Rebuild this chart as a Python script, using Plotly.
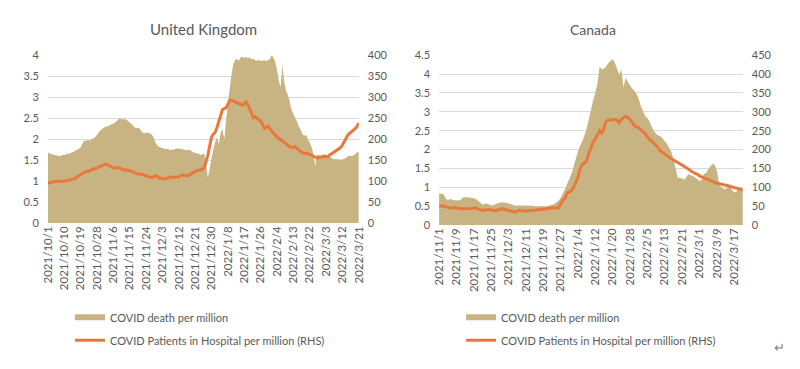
import pandas as pd
import plotly.graph_objects as go

# ---------------- United Kingdom (daily, 2021-10-01 .. 2022-03-21) ----------------
uk_start = "2021-10-01"
uk_end = "2022-03-21"
uk_death = [
    1.68, 1.66, 1.64, 1.63, 1.62, 1.61, 1.59, 1.60, 1.63, 1.62,
    1.64, 1.65, 1.66, 1.68, 1.70, 1.72, 1.75, 1.77, 1.80, 1.90,
    1.97, 1.96, 1.98, 1.97, 2.00, 2.02, 2.05, 2.10, 2.16, 2.22,
    2.25, 2.28, 2.30, 2.31, 2.33, 2.36, 2.37, 2.40, 2.44, 2.48,
    2.49, 2.47, 2.48, 2.46, 2.44, 2.40, 2.36, 2.31, 2.27, 2.26,
    2.28, 2.22, 2.16, 2.14, 2.16, 2.15, 2.14, 2.12, 2.05, 1.93,
    1.86, 1.82, 1.80, 1.79, 1.77, 1.76, 1.77, 1.74, 1.75, 1.74,
    1.77, 1.78, 1.77, 1.78, 1.76, 1.75, 1.74, 1.75, 1.74, 1.72,
    1.69, 1.67, 1.66, 1.65, 1.62, 1.64, 1.66, 1.39, 1.08, 1.30,
    1.55, 1.75, 1.93, 2.05, 1.88, 2.15, 2.24, 2.00, 2.45, 2.85,
    3.20, 3.54, 3.80, 3.88, 3.92, 3.86, 3.95, 3.96, 3.94, 3.96,
    3.93, 3.95, 3.90, 3.92, 3.88, 3.87, 3.89, 3.86, 3.87, 3.88,
    3.86, 3.88, 3.90, 4.00, 3.95, 3.85, 3.66, 3.40, 3.23, 3.77,
    3.36, 3.15, 3.05, 2.90, 2.70, 2.60, 2.50, 2.42, 2.30, 2.23,
    2.12, 2.08, 2.10, 2.00, 1.92, 1.82, 1.65, 1.36, 1.62, 1.63,
    1.60, 1.62, 1.64, 1.62, 1.58, 1.60, 1.55, 1.53, 1.52, 1.52,
    1.52, 1.51, 1.52, 1.53, 1.56, 1.59, 1.60, 1.60, 1.61, 1.64,
    1.68, 1.72,
]
uk_hosp = [
    95, 96, 98, 99, 99, 99, 99, 100, 99, 100,
    101, 102, 104, 105, 105, 106, 110, 113, 117, 120,
    121, 123, 123, 125, 128, 129, 130, 132, 133, 135,
    137, 140, 141, 139, 136, 133, 131, 132, 132, 132,
    130, 128, 126, 127, 126, 126, 124, 121, 119, 118,
    117, 117, 116, 114, 112, 111, 110, 109, 110, 113,
    112, 108, 107, 106, 105, 106, 108, 109, 109, 109,
    109, 109, 110, 113, 115, 114, 113, 113, 115, 117,
    121, 124, 125, 126, 127, 128, 132, 145, 162, 185,
    205, 212, 216, 228, 243, 258, 270, 273, 275, 283,
    293, 292, 291, 289, 287, 285, 283, 281, 284, 289,
    282, 272, 264, 251, 254, 250, 246, 243, 236, 226,
    228, 231, 225, 219, 215, 210, 205, 202, 199, 197,
    193, 189, 185, 182, 180, 181, 182, 178, 174, 170,
    168, 166, 166, 166, 164, 161, 159, 157, 155, 156,
    157, 159, 159, 158, 159, 162, 165, 168, 170, 172,
    176, 180, 186, 195, 205, 210, 214, 217, 220, 225,
    230, 239,
]
uk_tick_dates = ["2021-10-01", "2021-10-10", "2021-10-19", "2021-10-28", "2021-11-06",
                 "2021-11-15", "2021-11-24", "2021-12-03", "2021-12-12", "2021-12-21",
                 "2021-12-30", "2022-01-08", "2022-01-17", "2022-01-26", "2022-02-04",
                 "2022-02-13", "2022-02-22", "2022-03-03", "2022-03-12", "2022-03-21"]
uk_tick_labels = ["2021/10/1", "2021/10/10", "2021/10/19", "2021/10/28", "2021/11/6",
                  "2021/11/15", "2021/11/24", "2021/12/3", "2021/12/12", "2021/12/21",
                  "2021/12/30", "2022/1/8", "2022/1/17", "2022/1/26", "2022/2/4",
                  "2022/2/13", "2022/2/22", "2022/3/3", "2022/3/12", "2022/3/21"]

# ---------------- Canada (daily, 2021-11-01 .. 2022-03-21) ----------------
ca_start = "2021-11-01"
ca_end = "2022-03-21"
ca_death = [
    0.84, 0.83, 0.82, 0.72, 0.66, 0.69, 0.68, 0.66, 0.65, 0.66,
    0.67, 0.73, 0.74, 0.73, 0.74, 0.72, 0.71, 0.69, 0.64, 0.60,
    0.54, 0.56, 0.57, 0.55, 0.52, 0.53, 0.55, 0.58, 0.59, 0.60,
    0.60, 0.59, 0.57, 0.56, 0.53, 0.51, 0.52, 0.52, 0.51, 0.52,
    0.52, 0.51, 0.52, 0.51, 0.50, 0.49, 0.49, 0.50, 0.49, 0.49,
    0.50, 0.52, 0.54, 0.56, 0.60, 0.64, 0.72, 0.83, 0.95, 1.09,
    1.22, 1.35, 1.55, 1.75, 1.94, 2.10, 2.22, 2.37, 2.55, 2.80,
    3.05, 3.30, 3.50, 3.75, 4.20, 4.12, 4.15, 4.20, 4.29, 4.35,
    4.40, 4.30, 4.15, 3.99, 4.12, 3.65, 3.90, 3.80, 3.70, 3.62,
    3.56, 3.48, 3.35, 3.15, 3.02, 2.88, 2.84, 2.75, 2.60, 2.50,
    2.42, 2.37, 2.35, 2.30, 2.22, 2.16, 2.05, 1.94, 1.75, 1.50,
    1.26, 1.25, 1.24, 1.20, 1.28, 1.35, 1.32, 1.30, 1.26, 1.22,
    1.16, 1.20, 1.35, 1.38, 1.47, 1.55, 1.62, 1.60, 1.45, 1.10,
    1.00, 0.97, 0.95, 0.99, 1.00, 0.94, 0.86, 0.88, 0.96, 0.92,
    0.94,
]
ca_hosp = [
    50, 51, 51, 49, 47, 45, 46, 47, 45, 45,
    44, 43, 43, 44, 43, 44, 45, 45, 42, 40,
    39, 40, 41, 41, 40, 39, 38, 40, 42, 43,
    42, 40, 38, 37, 35, 34, 37, 39, 38, 37,
    37, 38, 38, 38, 39, 40, 41, 41, 41, 42,
    43, 45, 45, 45, 45, 45, 56, 66, 71, 85,
    88, 90, 100, 112, 126, 150, 160, 165, 169, 190,
    207, 220, 228, 240, 250, 241, 260, 275, 278, 280,
    280, 280, 278, 271, 280, 284, 288, 285, 280, 272,
    263, 260, 258, 252, 248, 242, 233, 228, 222, 216,
    211, 205, 196, 192, 188, 184, 178, 176, 172, 169,
    166, 162, 158, 155, 152, 148, 143, 140, 137, 135,
    130, 128, 125, 122, 120, 118, 116, 113, 111, 109,
    108, 107, 106, 104, 102, 100, 98, 97, 96, 95,
    92,
]
ca_tick_dates = ["2021-11-01", "2021-11-09", "2021-11-17", "2021-11-25", "2021-12-03",
                 "2021-12-11", "2021-12-19", "2021-12-27", "2022-01-04", "2022-01-12",
                 "2022-01-20", "2022-01-28", "2022-02-05", "2022-02-13", "2022-02-21",
                 "2022-03-01", "2022-03-09", "2022-03-17"]
ca_tick_labels = ["2021/11/1", "2021/11/9", "2021/11/17", "2021/11/25", "2021/12/3",
                  "2021/12/11", "2021/12/19", "2021/12/27", "2022/1/4", "2022/1/12",
                  "2022/1/20", "2022/1/28", "2022/2/5", "2022/2/13", "2022/2/21",
                  "2022/3/1", "2022/3/9", "2022/3/17"]

death_name = "COVID death per million"
hosp_name = "COVID Patients in Hospital per million (RHS)"

uk_dates = pd.date_range(uk_start, uk_end, freq="D")
ca_dates = pd.date_range(ca_start, ca_end, freq="D")

AREA = "#C8B483"
LINE = "#E8793A"
GRID = "#D9D9D9"
TXT = "#595959"
FONT = "Lato, 'Open Sans', sans-serif"

fig = go.Figure()
fig.add_trace(go.Scatter(x=uk_dates, y=uk_death, name=death_name, mode="none",
                         fill="tozeroy", fillcolor=AREA, xaxis="x", yaxis="y",
                         legend="legend", legendgroup="a"))
fig.add_trace(go.Scatter(x=uk_dates, y=uk_hosp, name=hosp_name, mode="lines",
                         line=dict(color=LINE, width=3), xaxis="x", yaxis="y2",
                         legend="legend", legendgroup="b"))
fig.add_trace(go.Scatter(x=ca_dates, y=ca_death, name=death_name, mode="none",
                         fill="tozeroy", fillcolor=AREA, xaxis="x2", yaxis="y3",
                         legend="legend2", legendgroup="c"))
fig.add_trace(go.Scatter(x=ca_dates, y=ca_hosp, name=hosp_name, mode="lines",
                         line=dict(color=LINE, width=3), xaxis="x2", yaxis="y4",
                         legend="legend2", legendgroup="d"))

xtickfont = dict(family=FONT, size=11.5, color=TXT)
ytickfont = dict(family=FONT, size=11, color=TXT)
xcommon = dict(type="date", tickmode="array", tickangle=-90, showgrid=False,
               zeroline=False, showline=False, ticks="", tickfont=xtickfont)
ycommon = dict(showline=False, zeroline=False, ticks="", tickfont=ytickfont,
               ticklabelstandoff=8)

fig.update_layout(
    width=800, height=369,
    paper_bgcolor="white", plot_bgcolor="white",
    margin=dict(l=0, r=0, t=0, b=0),
    font=dict(family=FONT, color=TXT),
    xaxis=dict(domain=[0.052, 0.447], anchor="y",
               range=[uk_start, uk_end], tickvals=uk_tick_dates, ticktext=uk_tick_labels,
               **xcommon),
    yaxis=dict(domain=[0.393, 0.8645], anchor="x", range=[0, 4], dtick=0.5,
               showgrid=True, gridcolor=GRID, gridwidth=1, **ycommon),
    yaxis2=dict(overlaying="y", side="right", anchor="x", range=[0, 400], dtick=50,
                showgrid=False, **ycommon),
    xaxis2=dict(domain=[0.549, 0.935], anchor="y3",
                range=[ca_start, ca_end], tickvals=ca_tick_dates, ticktext=ca_tick_labels,
                **xcommon),
    yaxis3=dict(domain=[0.3875, 0.8645], anchor="x2", range=[0, 4.5], dtick=0.5,
                showgrid=True, gridcolor=GRID, gridwidth=1, **ycommon),
    yaxis4=dict(overlaying="y3", side="right", anchor="x2", range=[0, 450], dtick=50,
                showgrid=False, **ycommon),
    legend=dict(x=0.080, y=0.169, xanchor="left", yanchor="top",
                font=dict(family=FONT, size=11, color=TXT),
                bgcolor="rgba(0,0,0,0)", tracegroupgap=4, itemwidth=30),
    legend2=dict(x=0.577, y=0.169, xanchor="left", yanchor="top",
                 font=dict(family=FONT, size=11, color=TXT),
                 bgcolor="rgba(0,0,0,0)", tracegroupgap=4, itemwidth=30),
    annotations=[
        dict(text="United Kingdom", x=0.25, y=0.9377, xref="paper", yref="paper",
             xanchor="center", yanchor="middle",
             showarrow=False, font=dict(family=FONT, size=15, color=TXT)),
        dict(text="Canada", x=0.744, y=0.9377, xref="paper", yref="paper",
             xanchor="center", yanchor="middle",
             showarrow=False, font=dict(family=FONT, size=14, color=TXT)),
        dict(text="↵", x=0.981, y=0.046, xref="paper", yref="paper",
             xanchor="center", yanchor="middle",
             showarrow=False, font=dict(family=FONT, size=13, color="#7F7F7F")),
    ],
)

fig.write_html("out.html", config={"displayModeBar": False},
               post_script="document.body.style.margin='0px';")
